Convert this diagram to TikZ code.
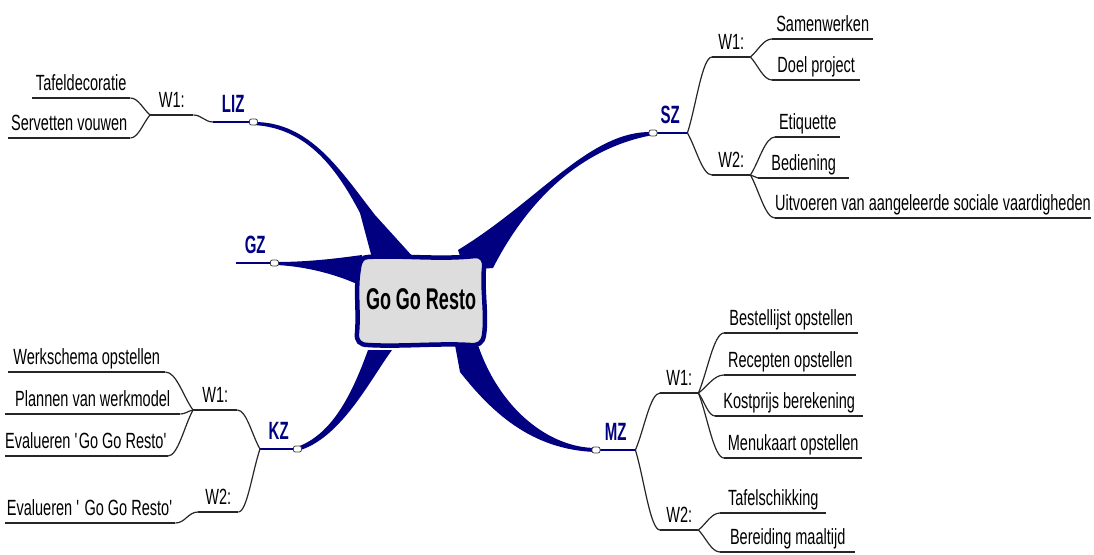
\documentclass[tikz,border=0pt]{standalone}
\usepackage{fontspec}
\usetikzlibrary{calc}
\setmainfont{Liberation Sans}
\newfontfamily\leaffont{Liberation Sans}[FakeStretch=0.66]
\newfontfamily\boldfont{Liberation Sans}[FakeStretch=0.6]
\definecolor{navy}{RGB}{0,0,128}
\definecolor{boxgray}{RGB}{221,221,221}
\tikzset{
  leaf/.style={font=\leaffont\fontsize{22}{24}\selectfont, inner sep=0pt, text height=15.5pt, text depth=7.5pt, anchor=south west},
  lab/.style={font=\boldfont\bfseries\fontsize{25}{28}\selectfont, text=navy, inner sep=0pt, text height=18pt, text depth=9.5pt, anchor=south west},
  uline/.style={line width=1.5pt, black!85},
  nline/.style={line width=1.8pt, navy},
  fork/.style={line width=1.2pt, black!85},
  wedge/.style={fill=navy},
  knob/.style={draw=black!75, fill=white, rectangle, rounded corners=2pt, minimum width=8pt, minimum height=6pt, inner sep=0pt, line width=0.8pt},
  blob/.style={draw=navy, line width=4.5pt, fill=boxgray},
  title/.style={font=\boldfont\bfseries\fontsize{30}{32}\selectfont, inner sep=0pt}
}
\newcommand\forkline[2]{\draw[fork] (#1) .. controls ($(#1)!0.35!(#2)$) and ($(#2)!0.4!(#2 -| #1)$) .. (#2);}
\begin{document}
\begin{tikzpicture}[x=1pt,y=1pt]
\useasboundingbox (0,0) rectangle (1094,-554);

% tapered main branches
\fill[wedge] (254,-122) .. controls (310,-122) and (340,-170) .. (375,-215) -- (414,-258) -- (372,-258) -- (360,-213) .. controls (335,-165) and (305,-128) .. (254,-125) -- cycle;
\fill[wedge] (653,-132) .. controls (590,-130) and (540,-200) .. (458,-250) -- (465,-270) -- (493,-268) .. controls (520,-215) and (570,-150) .. (653,-135) -- cycle;
\fill[wedge] (297,-447) .. controls (330,-435) and (350,-400) .. (368,-350) -- (392,-350) .. controls (370,-380) and (340,-440) .. (297,-451) -- cycle;
\fill[wedge] (455,-345) -- (460,-372) .. controls (490,-410) and (530,-450) .. (596,-452) -- (596,-448) .. controls (550,-448) and (500,-410) .. (478,-345) -- cycle;
\fill[wedge] (276,-262) .. controls (310,-262) and (340,-258) .. (362,-255) -- (365,-290) -- (357,-284) .. controls (330,-272) and (300,-266) .. (276,-265) -- cycle;

% central box
\draw[blob] (368,-257) .. controls (400,-255) and (440,-260) .. (475,-256) .. controls (482,-256) and (485,-260) .. (484,-268) .. controls (482,-290) and (487,-315) .. (484,-335) .. controls (483,-343) and (478,-346) .. (470,-345) .. controls (440,-343) and (400,-347) .. (368,-345) .. controls (360,-345) and (356,-341) .. (357,-333) .. controls (359,-310) and (355,-290) .. (359,-268) .. controls (360,-260) and (363,-257) .. (368,-257) -- cycle;
\node[title] (center) at (421,-299) {Go Go Resto};

% ---------- LIZ ----------
\node[lab, minimum width=40pt] (liz) at (213,-122) {LIZ};
\node[leaf, minimum width=43pt] (lizw1) at (150,-115) {W1:};
\node[leaf, minimum width=98pt] (taf) at (32,-98) {Tafeldecoratie};
\node[leaf, minimum width=122pt] (serv) at (8,-138) {Servetten vouwen};
\draw[nline] (liz.south west) -- (liz.south east);
\foreach \n in {lizw1,taf,serv}
  \draw[uline] (\n.south west) -- (\n.south east);
\draw[fork] (liz.south west) to[out=180,in=0] (lizw1.south east);
\forkline{lizw1.south west}{taf.south east}
\forkline{lizw1.south west}{serv.south east}
\node[knob] (lizk) at (liz.south east) {};

% ---------- GZ ----------
\node[lab, minimum width=38pt] (gz) at (236,-263) {GZ};
\draw[nline] (gz.south west) -- (gz.south east);
\node[knob] (gzk) at (gz.south east) {};

% ---------- SZ ----------
\node[lab, minimum width=34pt] (sz) at (653,-133) {SZ};
\node[leaf, minimum width=38pt] (szw1) at (712,-57) {W1:};
\node[leaf, minimum width=38pt] (szw2) at (712,-175) {W2:};
\node[leaf, minimum width=101pt] (sam) at (772,-39) {Samenwerken};
\node[leaf, minimum width=88pt] (doel) at (772,-80) {Doel project};
\node[leaf, minimum width=65pt] (etiq) at (775,-137) {Etiquette};
\node[leaf, minimum width=91pt] (bedi) at (758,-178) {Bediening};
\node[leaf, minimum width=313pt] (uitv) at (775,-218) {Uitvoeren van aangeleerde sociale vaardigheden};
\draw[nline] (sz.south west) -- (sz.south east);
\foreach \n in {szw1,szw2,sam,doel,etiq,bedi,uitv}
  \draw[uline] (\n.south west) -- (\n.south east);
\forkline{sz.south east}{szw1.south west}
\forkline{sz.south east}{szw2.south west}
\forkline{szw1.south east}{sam.south west}
\forkline{szw1.south east}{doel.south west}
\forkline{szw2.south east}{etiq.south west}
\draw[fork] (szw2.south east) to[out=0,in=180] (bedi.south west);
\forkline{szw2.south east}{uitv.south west}
\node[knob] (szk) at (sz.south west) {};

% ---------- KZ ----------
\node[lab, minimum width=37pt] (kz) at (260,-449) {KZ};
\node[leaf, minimum width=44pt] (kzw1) at (193,-410) {W1:};
\node[leaf, minimum width=40pt] (kzw2) at (198,-512) {W2:};
\node[leaf, minimum width=157pt] (werk) at (8,-372) {Werkschema opstellen};
\node[leaf, minimum width=175pt] (plan) at (5,-414) {Plannen van werkmodel};
\node[leaf, minimum width=160pt] (evalA) at (5,-456) {Evalueren \textquotesingle Go Go Resto\textquotesingle};
\node[leaf, minimum width=170pt] (evalB) at (5,-523) {Evalueren \textquotesingle\ Go Go Resto\textquotesingle};
\draw[nline] (kz.south west) -- (kz.south east);
\foreach \n in {kzw1,kzw2,werk,plan,evalA,evalB}
  \draw[uline] (\n.south west) -- (\n.south east);
\forkline{kz.south west}{kzw1.south east}
\forkline{kz.south west}{kzw2.south east}
\forkline{kzw1.south west}{werk.south east}
\draw[fork] (kzw1.south west) to[out=190,in=0] (plan.south east);
\forkline{kzw1.south west}{evalA.south east}
\draw[fork] (kzw2.south west) to[out=180,in=0] (evalB.south east);
\node[knob] (kzk) at (kz.south east) {};

% ---------- MZ ----------
\node[lab, minimum width=39pt] (mz) at (596,-450) {MZ};
\node[leaf, minimum width=38pt] (mzw1) at (660,-393) {W1:};
\node[leaf, minimum width=38pt] (mzw2) at (660,-530) {W2:};
\node[leaf, minimum width=134pt] (best) at (724,-333) {Bestellijst opstellen};
\node[leaf, minimum width=132pt] (rec) at (724,-375) {Recepten opstellen};
\node[leaf, minimum width=148pt] (kost) at (715,-416) {Kostprijs berekening};
\node[leaf, minimum width=138pt] (menu) at (724,-458) {Menukaart opstellen};
\node[leaf, minimum width=106pt] (tafel) at (720,-513) {Tafelschikking};
\node[leaf, minimum width=135pt] (berei) at (720,-552) {Bereiding maaltijd};
\draw[nline] (mz.south west) -- (mz.south east);
\foreach \n in {mzw1,mzw2,best,rec,kost,menu,tafel,berei}
  \draw[uline] (\n.south west) -- (\n.south east);
\forkline{mz.south east}{mzw1.south west}
\forkline{mz.south east}{mzw2.south west}
\forkline{mzw1.south east}{best.south west}
\forkline{mzw1.south east}{rec.south west}
\forkline{mzw1.south east}{kost.south west}
\forkline{mzw1.south east}{menu.south west}
\forkline{mzw2.south east}{tafel.south west}
\forkline{mzw2.south east}{berei.south west}
\node[knob] (mzk) at (mz.south west) {};
\end{tikzpicture}
\end{document}
